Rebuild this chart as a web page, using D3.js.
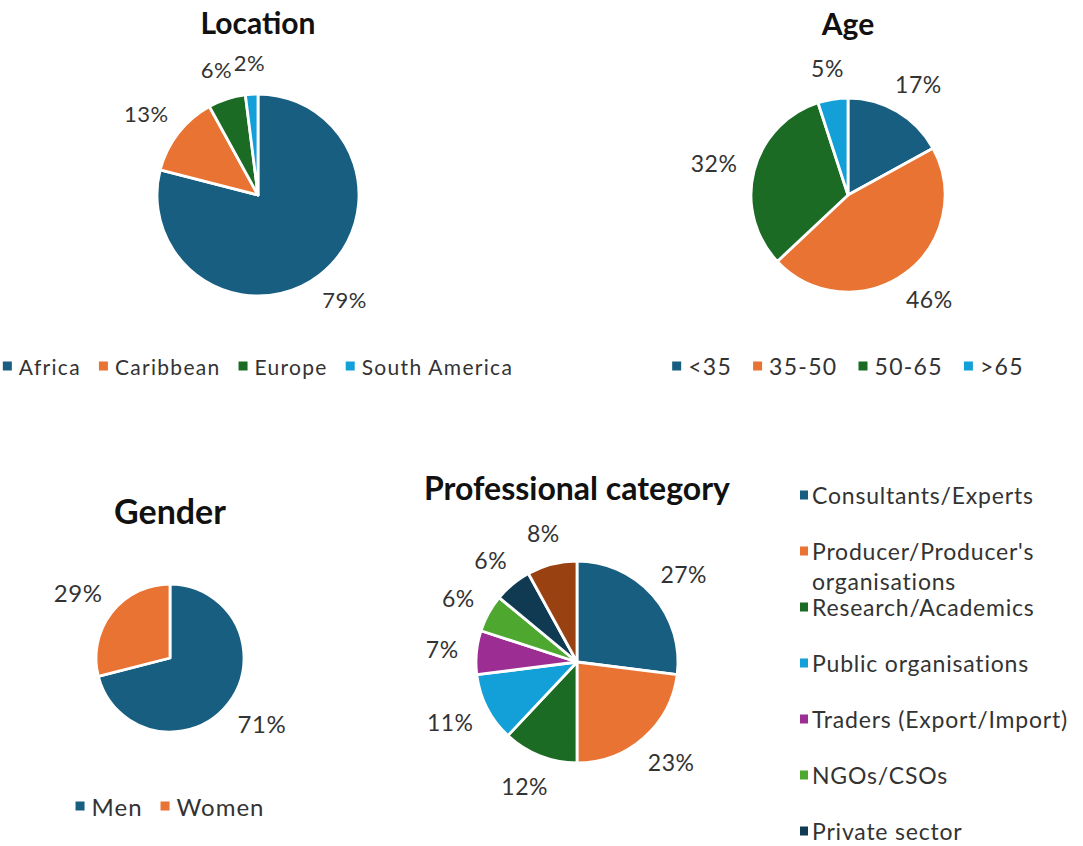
<!DOCTYPE html>
<html><head><meta charset="utf-8">
<script src="https://cdn.jsdelivr.net/npm/d3@7"></script>
<style>
body{margin:0;background:#fff}
text{font-family:Lato,"Open Sans",sans-serif}
</style></head>
<body>
<svg id="c" width="1083" height="846"></svg>
<script>
// ---- data ----
const locationCats = ["Africa", "Caribbean", "Europe", "South America"];
const locationVals = [79, 13, 6, 2];
const ageCats = ["<35", "35-50", "50-65", ">65"];
const ageVals = [17, 46, 32, 5];
const genderCats = ["Men", "Women"];
const genderVals = [71, 29];
const profCats = ["Consultants/Experts", "Producer/Producer's organisations", "Research/Academics",
  "Public organisations", "Traders (Export/Import)", "NGOs/CSOs", "Private sector", "Other"];
const profVals = [27, 23, 12, 11, 7, 6, 6, 8];
const palette = ["#175e80", "#e97333", "#1b6b24", "#139fd7", "#9c2d92", "#4ea72f", "#0f3a52", "#9a4112"];

const W = 1083, H = 846;
const svg = d3.select("#c");

function drawPie(cfg) {
  const data = cfg.cats.map((c, i) => ({cat: c, val: cfg.vals[i]}));
  const color = d3.scaleOrdinal().domain(cfg.cats).range(palette);
  const pie = d3.pie().value(d => d.val).sort(null);
  const arc = d3.arc().innerRadius(0).outerRadius(cfg.r);
  const arcs = pie(data);
  const g = svg.append("g").attr("transform", `translate(${cfg.cx},${cfg.cy})`);
  g.selectAll("path").data(arcs).join("path")
    .attr("d", arc).attr("fill", d => color(d.data.cat))
    .attr("stroke", "#fff").attr("stroke-width", 2.8).attr("stroke-linejoin", "round");

  // labels outside end
  const total = d3.sum(cfg.vals);
  arcs.forEach(a => {
    const m = (a.startAngle + a.endAngle) / 2;
    const s = Math.sin(m), c = Math.cos(m);
    const t = g.append("text").attr("font-size", cfg.labelSize).attr("fill", "#333")
      .attr("letter-spacing", 0.5)
      .attr("text-anchor", "middle").attr("dominant-baseline", "central")
      .text(Math.round(a.data.val / total * 100) + "%");
    const bb = t.node().getBBox();
    const R = cfg.r + 18;
    const x = R * s + s * bb.width / 2;
    const y = -R * c - c * bb.height / 2;
    t.attr("x", x).attr("y", y);
  });

  // title
  svg.append("text").attr("x", cfg.cx).attr("y", cfg.titleY)
    .attr("text-anchor", "middle").attr("font-size", cfg.titleSize).attr("font-weight", 700)
    .attr("fill", "#111").text(cfg.title);

  // legend
  const L = cfg.legend;
  const lg = svg.append("g");
  if (L.type === "row") {
    let x = 0;
    cfg.cats.forEach(cat => {
      lg.append("rect").attr("x", x).attr("y", -4.5).attr("width", 9).attr("height", 9).attr("fill", color(cat));
      const t = lg.append("text").attr("x", x + 16).attr("y", 0).attr("dominant-baseline", "central")
        .attr("font-size", L.size).attr("letter-spacing", L.ls).attr("fill", "#333").text(cat);
      x += 16 + t.node().getComputedTextLength() + L.gap;
    });
    const w = x - L.gap;
    lg.attr("transform", `translate(${cfg.cx - w / 2},${L.y})`);
  } else {
    cfg.cats.forEach((cat, i) => {
      const y = L.y + i * L.step;
      if (y + 6 > H) return; // entries past the frame's bottom edge are not visible
      lg.append("rect").attr("x", L.x).attr("y", y - 4.5).attr("width", 8).attr("height", 9).attr("fill", color(cat));
      const t = lg.append("text").attr("x", L.x + 12).attr("y", y).attr("dominant-baseline", "central")
        .attr("font-size", L.size).attr("letter-spacing", L.ls).attr("fill", "#333");
      const words = cat.split(" ");
      let line = [], tspan = t.append("tspan").attr("x", L.x + 12).attr("dy", 0);
      words.forEach(w => {
        line.push(w);
        tspan.text(line.join(" "));
        if (tspan.node().getComputedTextLength() > L.wrap && line.length > 1) {
          line.pop(); tspan.text(line.join(" "));
          line = [w];
          tspan = t.append("tspan").attr("x", L.x + 12).attr("dy", 30).text(w);
        }
      });
    });
  }
}

drawPie({cats: locationCats, vals: locationVals, cx: 258, cy: 195, r: 101,
  title: "Location", titleY: 34, titleSize: 30, labelSize: 22,
  legend: {type: "row", y: 366, gap: 18, size: 21, ls: 1.3}});
drawPie({cats: ageCats, vals: ageVals, cx: 848, cy: 195, r: 97,
  title: "Age", titleY: 35, titleSize: 30, labelSize: 23,
  legend: {type: "row", y: 366, gap: 21, size: 23, ls: 1.3}});
drawPie({cats: genderCats, vals: genderVals, cx: 170, cy: 658, r: 74,
  title: "Gender", titleY: 524, titleSize: 34, labelSize: 24,
  legend: {type: "row", y: 806, gap: 18, size: 24, ls: 1}});
drawPie({cats: profCats, vals: profVals, cx: 577, cy: 662, r: 101,
  title: "Professional category", titleY: 500, titleSize: 32, labelSize: 23,
  legend: {type: "col", x: 800, y: 495, step: 56, wrap: 290, size: 23, ls: 0.8}});
</script>
</body></html>
